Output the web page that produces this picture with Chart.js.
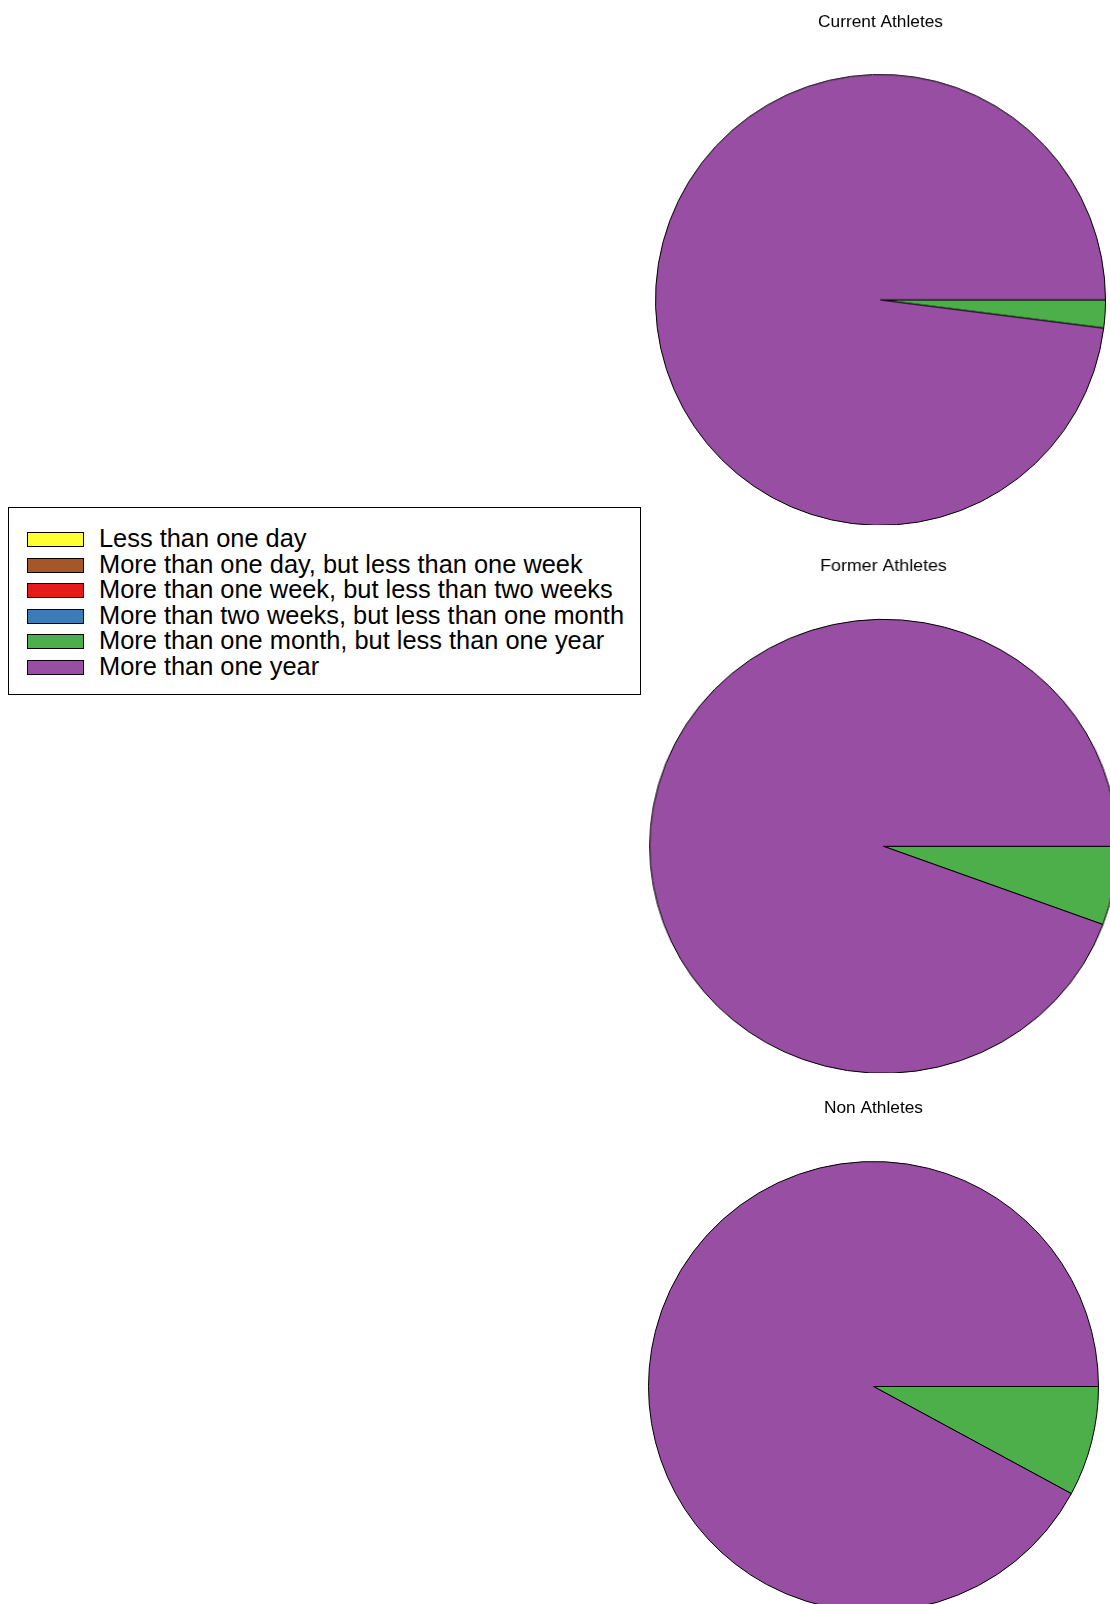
<!DOCTYPE html>
<html>
<head>
<meta charset="utf-8">
<script src="https://cdn.jsdelivr.net/npm/chart.js@4.4.0/dist/chart.umd.min.js"></script>
<style>
    body { margin: 0; width: 1110px; height: 1604px; overflow: hidden; background: #fff; position: relative;
           font-family: "Liberation Sans", Arial, Helvetica, sans-serif; }
    .pieBox { position: absolute; }
    #legend { position: absolute; left: 8px; top: 507px; width: 633px; height: 188px; border: 1px solid #000;
              box-sizing: border-box; }
    .row { position: absolute; left: 0; height: 26px; white-space: nowrap; }
    .sw { position: absolute; left: 18px; top: 3px; width: 55px; height: 13px; border: 1.6px solid #000; }
    .lbl { position: absolute; left: 90px; top: -4px; font-size: 25.4px; line-height: 26px; color: #000; }
</style>
</head>
<body>
<div id="legend"></div>

<script>
// Dữ liệu (phần trăm)
const groups = ['Current Athletes', 'Former Athletes', 'Non Athletes'];
const categories = [
    'Less than one day',
    'More than one day, but less than one week',
    'More than one week, but less than two weeks',
    'More than two weeks, but less than one month',
    'More than one month, but less than one year',
    'More than one year'
];
const sliceColors = ['#FFFF33', '#A65628', '#E41A1C', '#377EB8', '#4DAF4A', '#984EA3'];
const currentAthletes = [0, 0, 0, 0, 2.0, 98.0];
const formerAthletes = [0, 0, 0, 0, 5.6, 94.4];
const nonAthletes = [0, 0, 0, 0, 7.9, 92.1];
const groupValues = [currentAthletes, formerAthletes, nonAthletes];

// Vị trí từng biểu đồ (tâm, bán kính, dòng tiêu đề, độ giãn ngang)
const layouts = [
    { cx: 880, cy: 299, r: 225, titleY: 21.7, sx: 1 },
    { cx: 883, cy: 846, r: 227, titleY: 565.7, sx: 1.03 },
    { cx: 873, cy: 1386, r: 225, titleY: 1107.5, sx: 1 }
];
const titleSize = 17.3;

// Chú thích
const legend = document.getElementById('legend');
categories.forEach((name, i) => {
    const row = document.createElement('div');
    row.className = 'row';
    row.style.top = (21 + i * 25.6) + 'px';
    row.innerHTML = '<div class="sw" style="background:' + sliceColors[i] + '"></div><div class="lbl">' + name + '</div>';
    legend.appendChild(row);
});

// Vẽ ba biểu đồ tròn
groups.forEach((title, k) => {
    const L = layouts[k];
    const lineH = titleSize * 1.2;
    const top = L.titleY - 22;
    const padTop = 22 - lineH / 2;
    const chartTop = L.cy - L.r - 0.5;
    const padBottom = chartTop - (L.titleY + lineH / 2);
    const size = 2 * L.r + 1;

    const box = document.createElement('div');
    box.className = 'pieBox';
    box.style.left = (L.cx - size / 2) + 'px';
    box.style.top = top + 'px';
    box.style.width = size + 'px';
    box.style.height = (chartTop + size - top) + 'px';
    if (L.sx !== 1) {
        box.style.transform = 'scaleX(' + L.sx + ')';
        box.style.transformOrigin = '50% 50%';
    }
    const canvas = document.createElement('canvas');
    box.appendChild(canvas);
    document.body.appendChild(box);

    new Chart(canvas.getContext('2d'), {
        type: 'pie',
        data: {
            labels: categories,
            datasets: [{
                data: groupValues[k],
                backgroundColor: sliceColors,
                borderColor: '#000000',
                borderWidth: 1,
                hoverOffset: 0
            }]
        },
        options: {
            responsive: true,
            maintainAspectRatio: false,
            animation: false,
            rotation: 90,
            layout: { padding: 0 },
            plugins: {
                legend: { display: false },
                tooltip: { enabled: false },
                title: {
                    display: true,
                    text: title,
                    color: '#000000',
                    font: { size: titleSize, weight: 'normal', family: '"Liberation Sans", Arial, Helvetica, sans-serif' },
                    padding: { top: padTop, bottom: padBottom }
                }
            }
        }
    });
});
</script>
</body>
</html>
